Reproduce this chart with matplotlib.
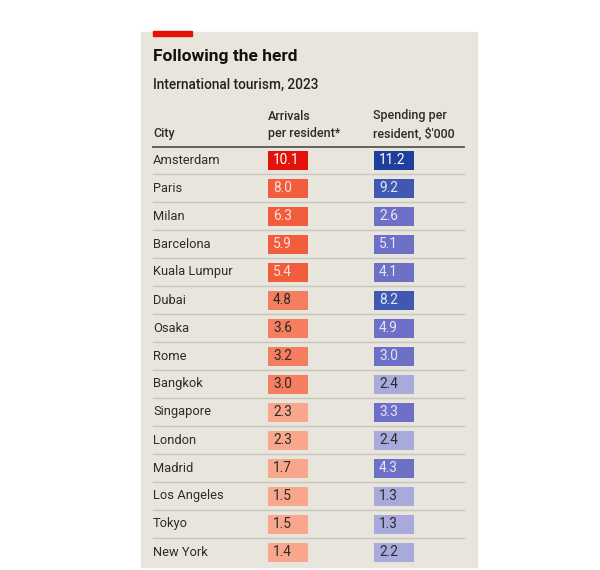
import matplotlib
matplotlib.use("Agg")
import matplotlib.pyplot as plt
from matplotlib.patches import Rectangle

plt.rcParams['font.family'] = ['Roboto', 'DejaVu Sans']

cities = ["Amsterdam", "Paris", "Milan", "Barcelona", "Kuala Lumpur", "Dubai",
          "Osaka", "Rome", "Bangkok", "Singapore", "London", "Madrid",
          "Los Angeles", "Tokyo", "New York"]
arrivals = [10.1, 8.0, 6.3, 5.9, 5.4, 4.8, 3.6, 3.2, 3.0, 2.3, 2.3, 1.7, 1.5, 1.5, 1.4]
spending = [11.2, 9.2, 2.6, 5.1, 4.1, 8.2, 4.9, 3.0, 2.4, 3.3, 2.4, 4.3, 1.3, 1.3, 2.2]

title = "Following the herd"
subtitle = "International tourism, 2023"
headers = ["City", "Arrivals\nper resident*", "Spending per\nresident, $'000"]

BG = "#e8e6dc"
INK = "#2b2b2b"


def red_shade(v):
    if v >= 10:
        return "#e3120b", "white"
    if v >= 5:
        return "#f05c3c", "#fbe3da"
    if v >= 2.5:
        return "#f57d60", INK
    return "#f8a68c", INK


def blue_shade(v):
    if v >= 10:
        return "#1f3f9c", "white"
    if v >= 8:
        return "#4057b4", "#e4e6f6"
    if v >= 2.5:
        return "#6d70c6", "#e4e6f6"
    return "#a9aadc", INK


fig = plt.figure(figsize=(6, 5.7), dpi=100)
ax = fig.add_axes([0, 0, 1, 1])
ax.set_xlim(0, 600)
ax.set_ylim(570, 0)
ax.axis("off")

# panel and red tab
ax.add_patch(Rectangle((141, 32), 336, 535, color=BG, zorder=0))
ax.add_patch(Rectangle((153, 31), 39, 5, color="#e3120b", zorder=1))

ax.text(153, 57, title, fontsize=12.5, fontweight="bold", color="#111111", va="center")
ax.text(153, 85, subtitle, fontsize=9.8, fontweight="medium", color="#222222", va="center")

x_city, x_arr, x_spd = 153, 268, 373
hdr = dict(fontsize=9, color=INK, va="center", fontweight="medium", linespacing=1.45)
ax.text(x_city, 133, headers[0], **hdr)
ax.text(x_arr, 125, headers[1], **hdr)
ax.text(x_spd, 125, headers[2], **hdr)
ax.plot([153, 464], [147, 147], color="#555555", lw=1.3)

top, step = 160, 28
cell_w, cell_h = 40, 19
for i, (c, a, s) in enumerate(zip(cities, arrivals, spending)):
    y = top + i * step
    ax.text(x_city, y, c, fontsize=9.3, color=INK, va="center")
    fc, tc = red_shade(a)
    ax.barh(y, cell_w, left=x_arr, height=cell_h, color=fc)
    ax.text(x_arr + 5, y + 0.5, f"{a:.1f}", fontsize=9.8, color=tc, va="center")
    fc, tc = blue_shade(s)
    ax.barh(y, cell_w, left=x_spd + 1, height=cell_h, color=fc)
    ax.text(x_spd + 6, y + 0.5, f"{s:.1f}", fontsize=9.8, color=tc, va="center")
    if i < len(cities) - 1:
        ax.plot([153, 464], [y + step / 2, y + step / 2], color="#c9c7bd", lw=1)

fig.savefig("out.png", dpi=100, facecolor="white")
